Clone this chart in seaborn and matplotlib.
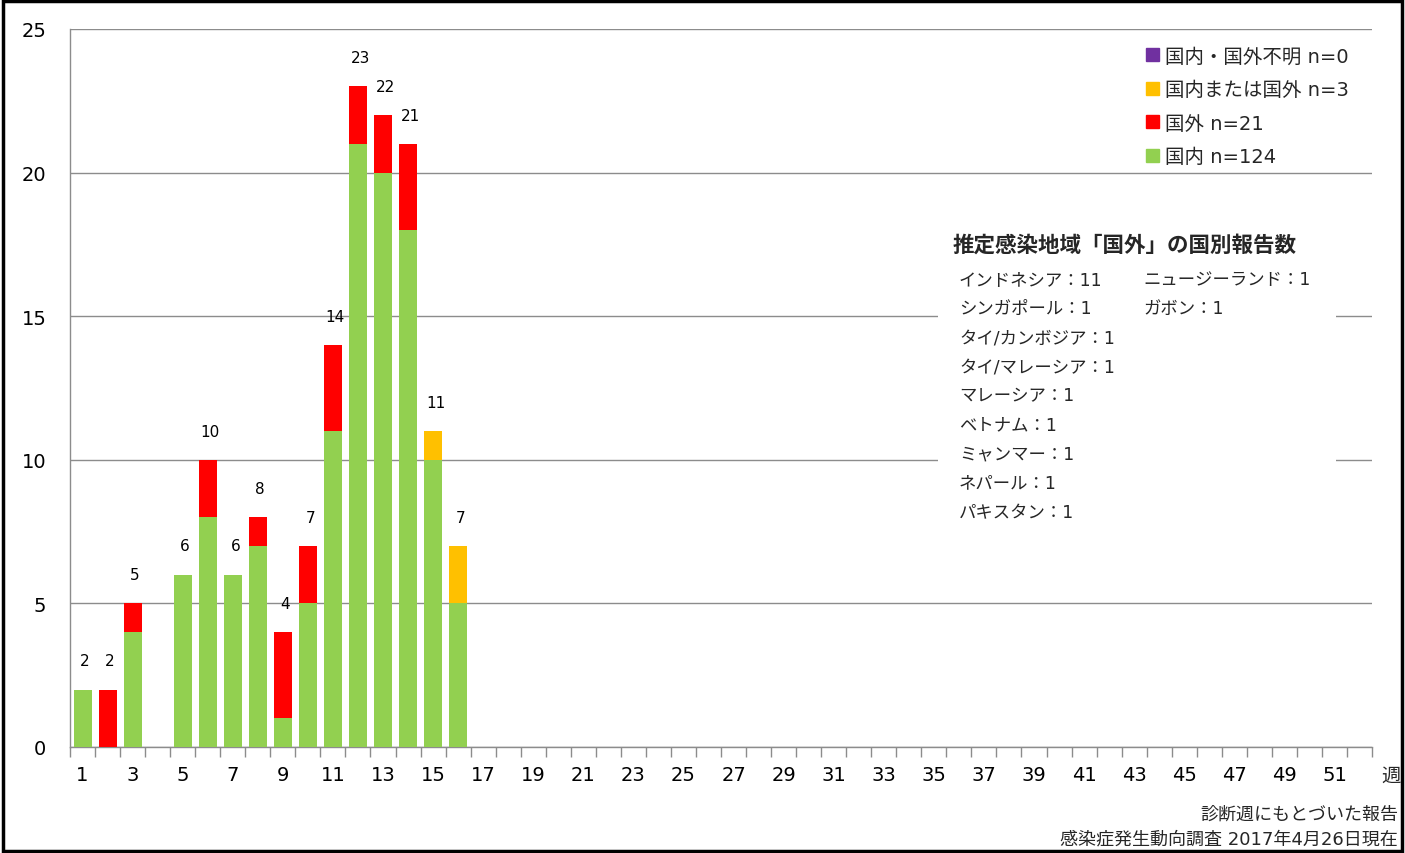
import matplotlib
matplotlib.use("Agg")
import matplotlib.pyplot as plt
import seaborn as sns
import pandas as pd
from matplotlib.patches import Rectangle

# weekly report counts (weeks 1-52, only 1-16 have data)
weeks = list(range(1, 53))
domestic = [2, 0, 4, 0, 6, 8, 6, 7, 1, 5, 11, 21, 20, 18, 10, 5] + [0] * 36
abroad = [0, 2, 1, 0, 0, 2, 0, 1, 3, 2, 3, 2, 2, 3, 0, 0] + [0] * 36
either = [0] * 14 + [1, 2] + [0] * 36
unknown = [0] * 52

legend_labels = ["国内・国外不明 n=0", "国内または国外 n=3", "国外 n=21", "国内 n=124"]
colors = ["#7030A0", "#FFC000", "#FF0000", "#92D050"]

box_title = "推定感染地域「国外」の国別報告数"
box_col1 = ["インドネシア：11", "シンガポール：1", "タイ/カンボジア：1", "タイ/マレーシア：1",
            "マレーシア：1", "ベトナム：1", "ミャンマー：1", "ネパール：1", "パキスタン：1"]
box_col2 = ["ニュージーランド：1", "ガボン：1"]

df = pd.DataFrame({"week": weeks, "domestic": domestic, "abroad": abroad,
                   "either": either, "unknown": unknown})
df["s1"] = df["domestic"]
df["s2"] = df["s1"] + df["abroad"]
df["s3"] = df["s2"] + df["either"]
df["s4"] = df["s3"] + df["unknown"]

sns.set_theme(style="white")
plt.rcParams["font.family"] = ["DejaVu Sans", "Noto Sans CJK JP"]

fig = plt.figure(figsize=(14.05, 8.54), dpi=100)
ax = fig.add_axes([70 / 1405, 1 - 748 / 854, 1302 / 1405, 718 / 854])

# stacked look: draw cumulative totals from the top layer down
for col, c in zip(["s4", "s3", "s2", "s1"], colors):
    sns.barplot(data=df, x="week", y=col, order=weeks, color=c, width=0.72,
                linewidth=0, saturation=1, ax=ax, zorder=3)

ax.set_ylim(0, 25)
ax.set_xlim(-0.5, 51.5)
ax.set_yticks([0, 5, 10, 15, 20, 25])
ax.yaxis.grid(True, color="#8c8c8c", linewidth=1)
ax.set_axisbelow(True)
ax.set_xlabel("")
ax.set_ylabel("")

ax.set_xticks(range(0, 52, 2))
ax.set_xticklabels([str(w) for w in weeks[::2]])
ax.set_xticks([i - 0.5 for i in range(53)], minor=True)
ax.tick_params(axis="x", which="major", length=0, pad=13, labelsize=14, colors="#000000")
ax.tick_params(axis="x", which="minor", length=7, direction="out", color="#8c8c8c", width=1, bottom=True)
ax.tick_params(axis="y", length=0, pad=17, labelsize=14, colors="#000000")

for s in ["top", "right"]:
    ax.spines[s].set_visible(False)
for s in ["left", "bottom"]:
    ax.spines[s].set_color("#8c8c8c")
    ax.spines[s].set_linewidth(1)

# total labels above bars
for i, tot in enumerate(df["s4"]):
    if tot > 0:
        ax.text(i + 0.1, tot + 1, str(tot), ha="center", va="center", fontsize=11, color="#000000")

ax.text(1.007, -0.04, "週", transform=ax.transAxes, ha="left", va="center", fontsize=14)

# legend
handles = [Rectangle((0, 0), 1, 1, color=c) for c in colors]
ax.legend(handles, legend_labels, loc="upper right", bbox_to_anchor=(0.996, 1.0),
          frameon=False, fontsize=14, handlelength=0.65, handleheight=0.65,
          handletextpad=0.35, labelspacing=0.75)

# country breakdown box
ax.add_patch(Rectangle((0.667, 0.305), 0.305, 0.43, transform=ax.transAxes,
                       facecolor="white", edgecolor="none", zorder=4))
fig.text(953 / 1405, 1 - 245 / 854, box_title, ha="left", va="center",
         fontsize=15.5, fontweight="bold", zorder=5)
for k, t in enumerate(box_col1):
    fig.text(959 / 1405, 1 - (280 + k * 29.1) / 854, t, ha="left", va="center", fontsize=12.5, zorder=5)
for k, t in enumerate(box_col2):
    fig.text(1143 / 1405, 1 - (280 + k * 29.1) / 854, t, ha="left", va="center", fontsize=12.5, zorder=5)

fig.text(1398 / 1405, 1 - 815 / 854, "診断週にもとづいた報告", ha="right", va="center", fontsize=13)
fig.text(1398 / 1405, 1 - 839 / 854, "感染症発生動向調査 2017年4月26日現在", ha="right", va="center", fontsize=13)

fig.patches.append(Rectangle((0.002, 0.002), 0.996, 0.996, transform=fig.transFigure,
                             fill=False, edgecolor="black", linewidth=2.5))

fig.savefig("out.png", dpi=100)
